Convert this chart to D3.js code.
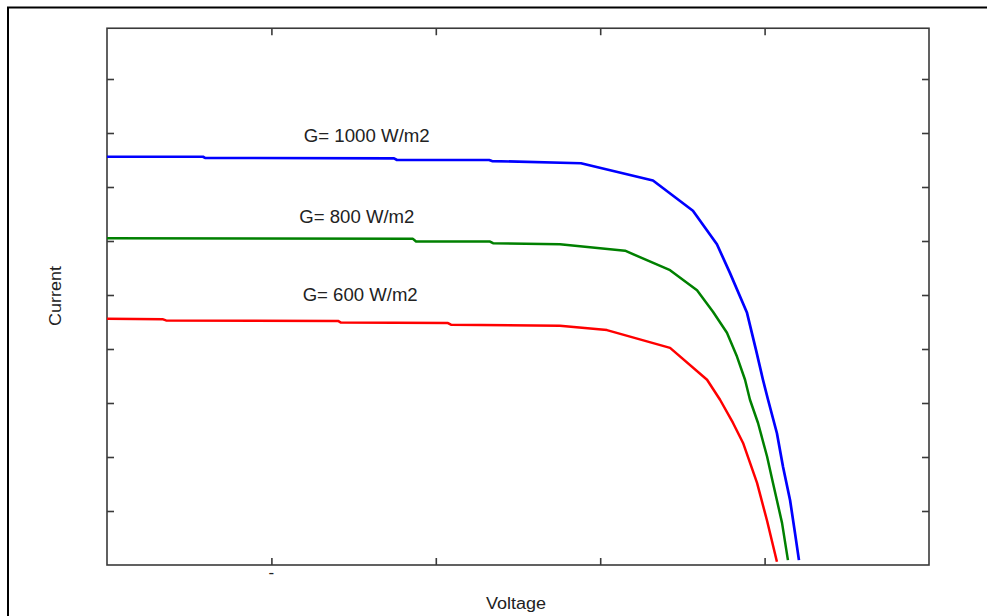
<!DOCTYPE html>
<html><head><meta charset="utf-8">
<script src="https://cdn.jsdelivr.net/npm/d3@7"></script>
<style>html,body{margin:0;padding:0;background:#fff;overflow:hidden}</style>
</head><body>
<svg id="chart" width="987" height="616"></svg>
<script>
// ---- data ----
const xTicks = [0, 1, 2, 3, 4, 5];
const yTicks = [1, 2, 3, 4, 5, 6, 7, 8, 9];
const xTickLabels = ["", "-", "", "", "", ""];
const seriesNames = ["G= 1000 W/m2", "G= 800 W/m2", "G= 600 W/m2"];
const seriesColors = ["#0000ff", "#008000", "#ff0000"];

const voltage1000 = [0, 0.584, 0.596, 1.746, 1.764, 2.324, 2.342, 2.883, 3.321, 3.564, 3.710, 3.789, 3.893, 3.948, 3.990, 4.021, 4.075, 4.112, 4.155, 4.185, 4.209];
const current1000 = [7.56, 7.56, 7.54, 7.53, 7.50, 7.50, 7.48, 7.44, 7.12, 6.56, 5.94, 5.41, 4.67, 3.98, 3.43, 3.06, 2.44, 1.82, 1.20, 0.59, 0.09];

const voltage800 = [0, 1.861, 1.880, 2.330, 2.348, 2.755, 3.151, 3.425, 3.589, 3.686, 3.771, 3.832, 3.881, 3.911, 3.960, 4.015, 4.051, 4.106, 4.142];
const current800 = [6.05, 6.04, 5.99, 5.99, 5.96, 5.94, 5.82, 5.46, 5.09, 4.69, 4.30, 3.86, 3.43, 3.06, 2.63, 2.01, 1.52, 0.78, 0.09];

const voltage600 = [0, 0.341, 0.359, 1.405, 1.423, 2.074, 2.092, 2.755, 3.041, 3.425, 3.650, 3.729, 3.808, 3.869, 3.954, 4.015, 4.075];
const current600 = [4.56, 4.55, 4.53, 4.52, 4.49, 4.48, 4.45, 4.43, 4.35, 4.02, 3.43, 3.06, 2.63, 2.26, 1.52, 0.82, 0.06];

// label anchor positions (data units)
const labelV = [1.58, 1.52, 1.54];
const labelI = [7.83, 6.33, 4.89];

const yTop = 9.94;

// ---- drawing ----
const svg = d3.select("#chart");
const x = d3.scaleLinear().domain([0, 5]).range([107, 929]);
const y = d3.scaleLinear().domain([0, 10]).range([565, 25]);
const font = "'Liberation Sans', Arial, sans-serif";

// outer frame
svg.append("rect").attr("x", 8).attr("y", 7.5).attr("width", 1200).attr("height", 800)
  .attr("fill", "none").attr("stroke", "#000").attr("stroke-width", 2);

const axColor = "#3a3a3a";
// plot box
svg.append("rect").attr("x", x(0)).attr("y", y(yTop))
  .attr("width", x(5) - x(0)).attr("height", y(0) - y(yTop))
  .attr("fill", "none").attr("stroke", axColor).attr("stroke-width", 1.6);

const tl = 7;
function styleAxis(g) {
  g.select(".domain").remove();
  g.selectAll(".tick line").attr("stroke", axColor).attr("stroke-width", 1.6);
}
svg.append("g").attr("transform", `translate(0,${y(0)})`)
  .call(d3.axisBottom(x).tickValues(xTicks.slice(1, -1)).tickSize(-tl).tickFormat(() => ""))
  .call(styleAxis);
svg.append("g").attr("transform", `translate(0,${y(yTop)})`)
  .call(d3.axisTop(x).tickValues(xTicks.slice(1, -1)).tickSize(-tl).tickFormat(() => ""))
  .call(styleAxis);
svg.append("g").attr("transform", `translate(${x(0)},0)`)
  .call(d3.axisLeft(y).tickValues(yTicks).tickSize(-tl).tickFormat(() => ""))
  .call(styleAxis);
svg.append("g").attr("transform", `translate(${x(5)},0)`)
  .call(d3.axisRight(y).tickValues(yTicks).tickSize(-tl).tickFormat(() => ""))
  .call(styleAxis);

// odd tick label
svg.selectAll(".xtl").data(xTicks).enter().append("text")
  .attr("x", d => x(d)).attr("y", 578).attr("text-anchor", "middle")
  .attr("font-family", font).attr("font-size", 17).attr("fill", "#222")
  .text((d, i) => xTickLabels[i]);

// curves
const series = [
  { v: voltage1000, c: current1000, w: 2.7 },
  { v: voltage800, c: current800, w: 2.5 },
  { v: voltage600, c: current600, w: 2.5 }
];
const line = d3.line().x(d => x(d[0])).y(d => y(d[1]));
series.forEach((s, k) => {
  const pts = s.v.map((v, i) => [v, s.c[i]]);
  svg.append("path").attr("d", line(pts)).attr("fill", "none")
    .attr("stroke", seriesColors[k]).attr("stroke-width", s.w)
    .attr("stroke-linejoin", "round");
});

// series labels
const labelW = [126, 115, 115];
seriesNames.forEach((n, k) => {
  svg.append("text").attr("x", x(labelV[k])).attr("y", y(labelI[k]))
    .attr("text-anchor", "middle").attr("font-family", font).attr("font-size", 18)
    .attr("fill", "#222").attr("textLength", labelW[k]).attr("lengthAdjust", "spacingAndGlyphs")
    .text(n);
});

// axis titles
svg.append("text").attr("x", 516).attr("y", 609).attr("text-anchor", "middle")
  .attr("font-family", font).attr("font-size", 16).attr("fill", "#222")
  .attr("textLength", 60).attr("lengthAdjust", "spacingAndGlyphs").text("Voltage");
svg.append("text").attr("transform", "translate(61,296) rotate(-90)").attr("text-anchor", "middle")
  .attr("font-family", font).attr("font-size", 16).attr("fill", "#222")
  .attr("textLength", 60).attr("lengthAdjust", "spacingAndGlyphs").text("Current");
</script>
</body></html>
